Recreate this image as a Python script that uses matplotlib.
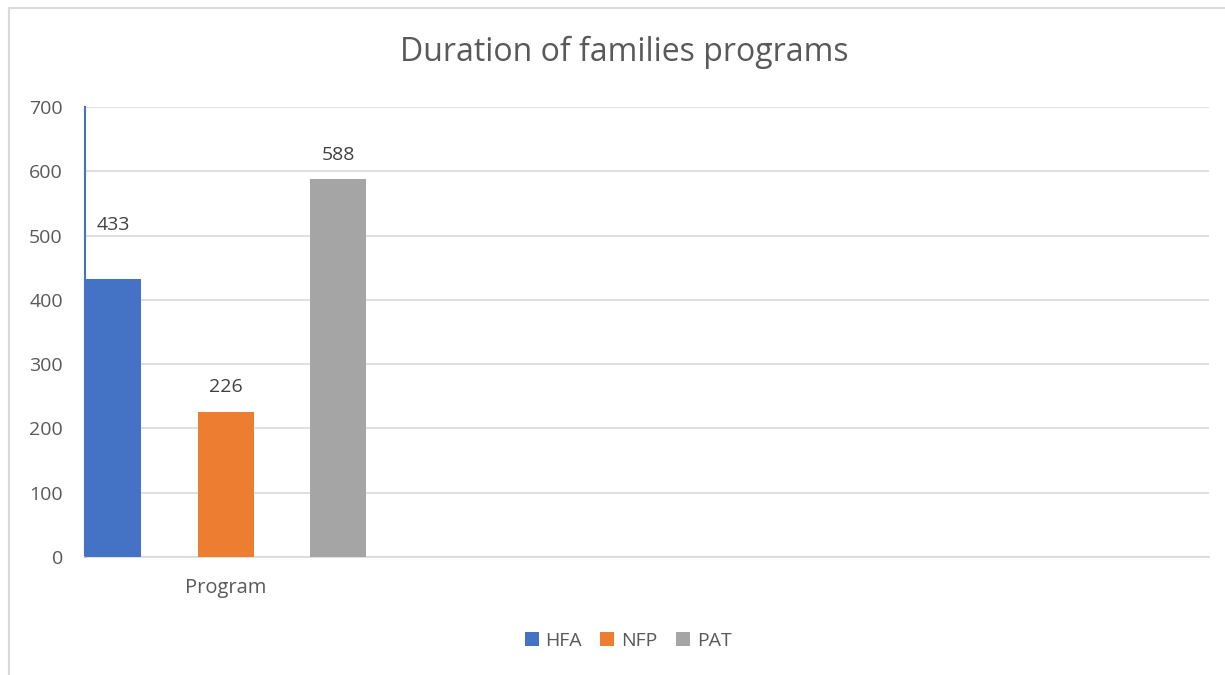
import matplotlib.pyplot as plt
from matplotlib.patches import Rectangle

plt.rcParams['font.family'] = ['Open Sans', 'DejaVu Sans']

# data
category = 'Program'
series = ['HFA', 'NFP', 'PAT']
values = [433, 226, 588]
colors = ['#4472C4', '#ED7D31', '#A5A5A5']
yticks = [0, 100, 200, 300, 400, 500, 600, 700]

TXT = '#595959'
GRID = '#D9D9D9'

fig = plt.figure(figsize=(12.25, 6.75), dpi=100)
fig.patches.append(Rectangle((9 / 1225, -0.05), 1.2, 1.05 - 8 / 675, transform=fig.transFigure,
                             fill=False, ec=GRID, lw=1.5))
ax = fig.add_axes([85 / 1225, 118 / 675, 1124 / 1225, 450 / 675])

offsets = [-1, 0, 1]
label_pad = [38.5, 18, 17.3]
for i, (name, v, c) in enumerate(zip(series, values, colors)):
    ax.bar(offsets[i], v, width=0.5, color=c, label=name, zorder=3)
    ax.annotate(str(v), (offsets[i], v), xytext=(0, label_pad[i]), textcoords='offset points',
                ha='center', va='center', fontsize=14, color='#404040')

ax.set_xlim(-1.25, 8.74)
ax.set_ylim(0, 700)
ax.set_yticks(yticks)
ax.set_xticks([0])
ax.set_xticklabels([category])
ax.tick_params(axis='y', length=0, labelsize=14, colors=TXT, pad=16)
ax.tick_params(axis='x', length=0, labelsize=14.5, colors=TXT, pad=15)
ax.grid(axis='y', color=GRID, lw=1.2, zorder=0)
for s in ['top', 'right']:
    ax.spines[s].set_visible(False)
ax.spines['bottom'].set_color(GRID)
ax.spines['bottom'].set_linewidth(1.2)
ax.spines['left'].set_color('#4472C4')
ax.spines['left'].set_linewidth(1.5)

fig.text(624 / 1225, 1 - 52 / 675, 'Duration of families programs', ha='center', va='center',
         fontsize=23, color=TXT)
fig.legend(loc='center', bbox_to_anchor=(628 / 1225, 1 - 641 / 675), ncol=3, frameon=False,
           fontsize=14, labelcolor=TXT, handlelength=0.72, handleheight=0.72, handletextpad=0.35,
           columnspacing=0.95)

fig.savefig('out.png', dpi=100)
